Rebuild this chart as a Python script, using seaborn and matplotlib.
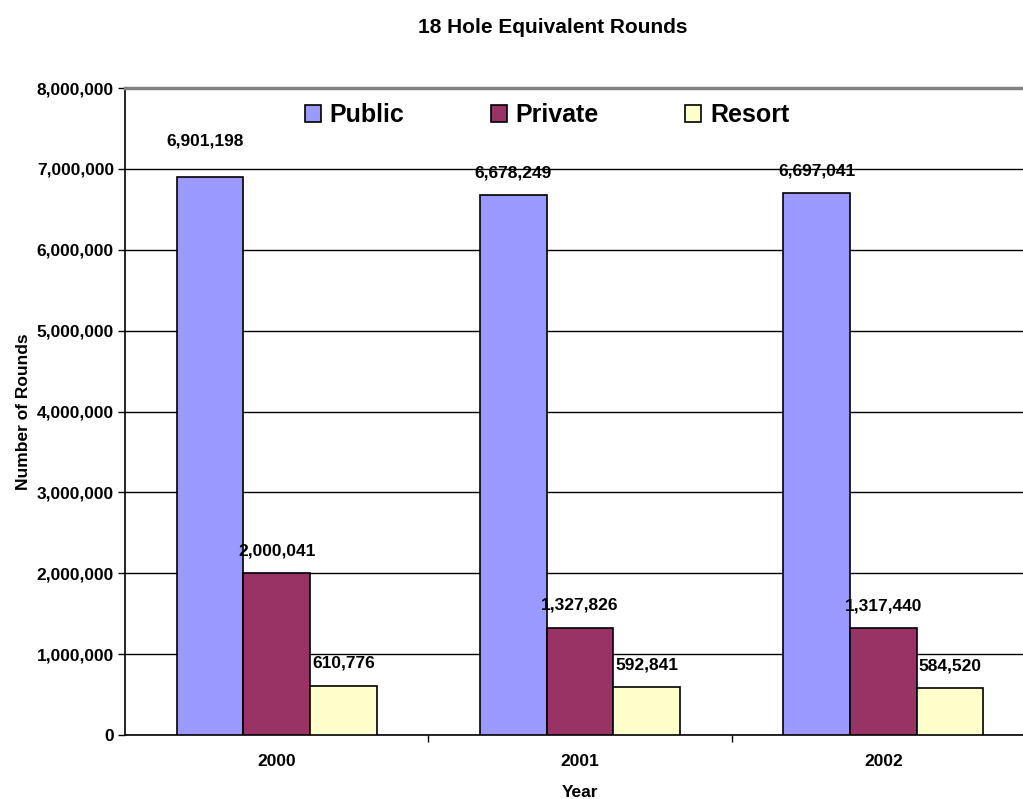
import matplotlib
matplotlib.use("Agg")
import matplotlib.pyplot as plt
import seaborn as sns
import pandas as pd
from matplotlib.ticker import FuncFormatter, FixedLocator

years = ["2000", "2001", "2002"]
public = [6901198, 6678249, 6697041]
private = [2000041, 1327826, 1317440]
resort = [610776, 592841, 584520]
series_names = ["Public", "Private", "Resort"]
colors = ["#9999FF", "#993366", "#FFFFCC"]

df = pd.DataFrame({
    "Year": years * 3,
    "Rounds": public + private + resort,
    "Type": [s for s in series_names for _ in years],
})

sns.set_theme(style="white")
plt.rcParams["font.family"] = ["Liberation Sans", "DejaVu Sans"]
plt.rcParams["font.weight"] = "bold"
plt.rcParams["text.color"] = "black"
plt.rcParams["axes.labelcolor"] = "black"
plt.rcParams["xtick.color"] = "black"
plt.rcParams["ytick.color"] = "black"

SMALL = 12.5

fig = plt.figure(figsize=(10.23, 7.99), dpi=100)
ax = fig.add_axes([0.1222, 0.0801, 0.8895, 0.8097])

sns.barplot(data=df, x="Year", y="Rounds", hue="Type", palette=colors,
            width=0.66, gap=0, edgecolor="black", linewidth=1.2,
            saturation=1, ax=ax, legend=True, zorder=3)

ax.set_ylim(0, 8000000)
ax.set_xlim(-0.5, 2.5)
ax.set_yticks(range(0, 8000001, 1000000))
ax.yaxis.set_major_formatter(FuncFormatter(lambda v, p: f"{int(v):,}"))
ax.grid(axis="y", color="black", linewidth=1, zorder=0)
ax.grid(axis="x", visible=False)

ax.spines["right"].set_visible(False)
ax.spines["top"].set_color("#808080")
ax.spines["top"].set_linewidth(2.5)
for side in ["left", "bottom"]:
    ax.spines[side].set_color("black")
    ax.spines[side].set_linewidth(1.2)

ax.tick_params(axis="y", which="major", direction="out", length=5, width=1,
               color="black", labelsize=SMALL, pad=3, left=True)
ax.tick_params(axis="x", which="major", length=0, labelsize=SMALL, pad=14)
ax.xaxis.set_minor_locator(FixedLocator([0.5, 1.5]))
ax.tick_params(axis="x", which="minor", direction="out", length=5, width=1,
               color="black", bottom=True)
for lbl in ax.get_xticklabels() + ax.get_yticklabels():
    lbl.set_fontweight("bold")
    lbl.set_color("black")

ax.set_xlabel("Year", fontsize=SMALL, fontweight="bold", labelpad=11, color="black")
ax.set_ylabel("Number of Rounds", fontsize=SMALL, fontweight="bold", labelpad=4,
              color="black")
fig.suptitle("18 Hole Equivalent Rounds", x=0.54, y=0.978,
             fontsize=15, fontweight="bold", color="black")

# value labels above each bar: (dx, dy) offsets in points
label_offsets = [[(-3.2, 25.5), (0, 16), (0, 16)],
                 [(0, 16), (0, 16), (0, 16)],
                 [(0, 16), (0, 16), (0, 16)]]
for si, container in enumerate(ax.containers):
    for bi, bar in enumerate(container):
        h = bar.get_height()
        ax.annotate(f"{int(round(h)):,}",
                    (bar.get_x() + bar.get_width() / 2, h),
                    xytext=label_offsets[si][bi], textcoords="offset points",
                    ha="center", va="center", fontsize=SMALL, fontweight="bold",
                    color="black")

leg = ax.legend(loc="center", bbox_to_anchor=(0.464, 0.958), ncol=3,
                frameon=False, prop={"size": 18, "weight": "bold"},
                handlelength=0.64, handleheight=0.64, handletextpad=0.36,
                columnspacing=3.45)
for t in leg.get_texts():
    t.set_color("black")
for h in leg.legend_handles:
    h.set_edgecolor("black")
    h.set_linewidth(1.2)

fig.savefig("out.png", dpi=100)
